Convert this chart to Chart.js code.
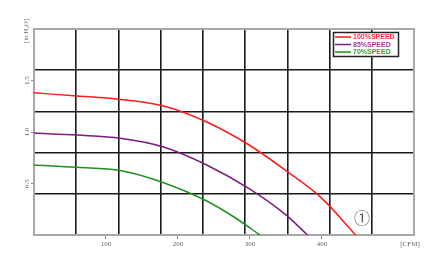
<!DOCTYPE html>
<html>
<head>
<meta charset="utf-8">
<script src="https://cdn.jsdelivr.net/npm/chart.js@4"></script>
<style>
  html, body { margin: 0; padding: 0; background: #fff; }
  #wrap { width: 436px; height: 261px; }
</style>
</head>
<body>
<div id="wrap"><canvas id="c"></canvas></div>
<script>
// fan curves, flow in CFM / static pressure in inH2O
const seriesNames = ['100%SPEED', '85%SPEED', '70%SPEED'];

const flow100 = [0, 60, 120, 180, 240, 300, 350, 400, 447];
const pres100 = [1.38, 1.35, 1.316, 1.252, 1.097, 0.869, 0.625, 0.356, 0];

const flow85 = [0, 60, 120, 180, 240, 300, 350, 380];
const pres85 = [0.99, 0.97, 0.94, 0.855, 0.68, 0.445, 0.195, 0];

const flow70 = [0, 60, 120, 180, 240, 280, 314];
const pres70 = [0.68, 0.657, 0.626, 0.508, 0.33, 0.165, 0];

const xTickVals = [100, 200, 300, 400];
const yTickVals = [0.5, 1.0, 1.5];
const yTickText = ['0.5', '1.0', '1.5'];

const X_MAX = 528, Y_MAX = 2.0;
const colors = ['#ff1a1a', '#7f1a80', '#1f8f1f'];
const textColors = ['#ff3333', '#9a3a9a', '#3a9a3a'];

const pts = (xs, ys) => xs.map((x, i) => ({ x, y: ys[i] }));

const overlay = {
  id: 'overlay',
  afterDraw(chart) {
    const { ctx } = chart;
    const ys = chart.scales.y;
    ctx.save();

    // y tick labels, rotated
    ctx.fillStyle = '#666';
    ctx.font = '7px "Liberation Serif"';
    ctx.textAlign = 'center';
    ctx.textBaseline = 'middle';
    yTickVals.forEach((v, i) => {
      const py = ys.getPixelForValue(v);
      ctx.save();
      ctx.translate(27, py);
      ctx.rotate(-Math.PI / 2);
      ctx.fillText(yTickText[i], 0, 0);
      ctx.restore();
    });

    // axis titles
    ctx.save();
    ctx.translate(26, 31);
    ctx.rotate(-Math.PI / 2);
    ctx.fillText('[in H\u2082O]', 0, 0);
    ctx.restore();
    ctx.fillText('[CFM]', 410, 244);

    // curve marker
    ctx.fillStyle = '#555';
    ctx.font = '16px "Noto Sans CJK SC"';
    ctx.fillText('\u2460', 362, 218);

    // legend
    const bx = 333.5, by = 32.5, bw = 65, bh = 24;
    ctx.fillStyle = '#fff';
    ctx.fillRect(bx, by, bw, bh);
    ctx.strokeStyle = '#222';
    ctx.lineWidth = 1.5;
    ctx.strokeRect(bx, by, bw, bh);
    ctx.font = 'bold 7px "Liberation Sans"';
    ctx.textAlign = 'left';
    seriesNames.forEach((name, i) => {
      const ly = 37 + i * 7.5;
      ctx.strokeStyle = colors[i];
      ctx.lineWidth = 1.5;
      ctx.beginPath();
      ctx.moveTo(335, ly);
      ctx.lineTo(351, ly);
      ctx.stroke();
      ctx.fillStyle = textColors[i];
      ctx.fillText(name, 353, ly + 0.5);
    });
    ctx.restore();
  }
};

const gridLine = { color: '#1a1a1a', lineWidth: 1.6, drawTicks: false };
const frame = { display: true, color: '#a8a8a8', width: 2 };

new Chart(document.getElementById('c'), {
  type: 'line',
  data: {
    datasets: [
      { label: seriesNames[0], data: pts(flow100, pres100) },
      { label: seriesNames[1], data: pts(flow85, pres85) },
      { label: seriesNames[2], data: pts(flow70, pres70) }
    ].map((d, i) => Object.assign(d, {
      borderColor: colors[i],
      borderWidth: 1.5,
      pointRadius: 0,
      fill: false,
      cubicInterpolationMode: 'monotone'
    }))
  },
  options: {
    responsive: true,
    maintainAspectRatio: false,
    animation: false,
    layout: { padding: { top: 29, right: 22, left: 0, bottom: 0 } },
    plugins: { legend: { display: false }, tooltip: { enabled: false } },
    scales: {
      x: {
        type: 'linear', min: 0, max: X_MAX, position: 'bottom',
        afterBuildTicks: s => { s.ticks = xTickVals.map(v => ({ value: v })); },
        afterFit: s => { s.height = 26; },
        grid: { drawOnChartArea: false, drawTicks: true, tickLength: 4, color: '#888' },
        border: frame,
        ticks: { color: '#666', padding: 1, font: { family: 'Liberation Serif', size: 7 }, maxRotation: 0 }
      },
      y: {
        type: 'linear', min: 0, max: Y_MAX, position: 'left',
        afterBuildTicks: s => { s.ticks = yTickVals.map(v => ({ value: v })); },
        afterFit: s => { s.width = 34; },
        grid: { drawOnChartArea: false, drawTicks: true, tickLength: 3, color: '#888' },
        border: frame,
        ticks: { display: false }
      },
      xg: {
        type: 'linear', min: 0, max: X_MAX, position: 'top',
        afterBuildTicks: s => { s.ticks = [1,2,3,4,5,6,7,8].map(k => ({ value: k * X_MAX / 9 })); },
        afterFit: s => { s.height = 0; },
        grid: gridLine, border: frame,
        ticks: { display: false }
      },
      yg: {
        type: 'linear', min: 0, max: Y_MAX, position: 'right',
        afterBuildTicks: s => { s.ticks = [1,2,3,4].map(k => ({ value: k * Y_MAX / 5 })); },
        afterFit: s => { s.width = 0; },
        grid: gridLine, border: frame,
        ticks: { display: false }
      }
    }
  },
  plugins: [overlay]
});
</script>
</body>
</html>
